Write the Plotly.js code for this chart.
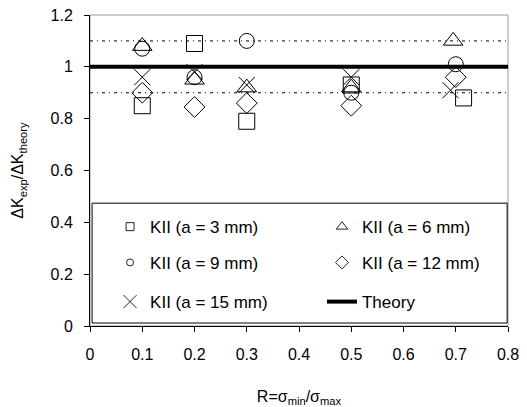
<!DOCTYPE html>
<html>
<head>
<meta charset="utf-8">
<script src="https://cdn.plot.ly/plotly-3.0.1.min.js"></script>
<style>html,body{margin:0;padding:0;background:#fff;}#chart{width:527px;height:407px;}</style>
</head>
<body>
<div id="chart"></div>
<script>
// Data
const x_a3  = [0.1, 0.2, 0.3, 0.5, 0.715];
const y_a3  = [0.85, 1.09, 0.79, 0.93, 0.88];
const x_a6  = [0.1, 0.2, 0.3, 0.5, 0.695];
const y_a6  = [1.08, 0.95, 0.92, 0.92, 1.10];
const x_a9  = [0.1, 0.2, 0.3, 0.5, 0.70];
const y_a9  = [1.07, 0.96, 1.10, 0.90, 1.01];
const x_a12 = [0.1, 0.2, 0.3, 0.5, 0.70];
const y_a12 = [0.90, 0.845, 0.86, 0.85, 0.96];
const x_a15 = [0.1, 0.2, 0.3, 0.5, 0.69];
const y_a15 = [0.96, 0.98, 0.93, 0.96, 0.91];
const x_theory = [0, 0.8];
const y_theory = [1, 1];
const bandLevels = [1.1, 0.9];
const names = ['KII (a = 3 mm)', 'KII (a = 6 mm)', 'KII (a = 9 mm)', 'KII (a = 12 mm)', 'KII (a = 15 mm)', 'Theory'];
const xTicks = [0, 0.1, 0.2, 0.3, 0.4, 0.5, 0.6, 0.7, 0.8];
const yTicks = [0, 0.2, 0.4, 0.6, 0.8, 1, 1.2];

const FONT = 'Liberation Sans, Arial, sans-serif';
const series = [
  {x: x_a3,  y: y_a3,  sym: 'square-open',      size: 16, lsize: 8},
  {x: x_a6,  y: y_a6,  sym: 'triangle-up-open', size: 17, lsize: 10},
  {x: x_a9,  y: y_a9,  sym: 'circle-open',      size: 15, lsize: 7},
  {x: x_a12, y: y_a12, sym: 'diamond-open',     size: 16, lsize: 10},
  {x: x_a15, y: y_a15, sym: 'x-thin-open',      size: 16, lsize: 13}
];
const legendIds = ['legend', 'legend2', 'legend3', 'legend4', 'legend5', 'legend6'];

const traces = [];
// reference dotted lines
bandLevels.forEach(v => {
  traces.push({x: x_theory, y: [v, v], mode: 'lines', showlegend: false, hoverinfo: 'skip',
    line: {color: '#000', width: 1, dash: '3px,4px,1px,4px'}});
});
traces.push({x: x_theory, y: y_theory, mode: 'lines', showlegend: false,
  line: {color: '#000', width: 4}});
series.forEach((s) => {
  traces.push({x: s.x, y: s.y, mode: 'markers', showlegend: false,
    marker: {symbol: s.sym, size: s.size, color: '#000', line: {color: '#000', width: 1}}});
});
// legend entries (one legend per entry, laid out in a 2-column grid)
series.forEach((s, i) => {
  traces.push({x: [null], y: [null], mode: 'markers', name: names[i], legend: legendIds[i],
    marker: {symbol: s.sym, size: s.lsize, color: '#222', line: {color: '#222', width: 1}}});
});
traces.push({x: [null], y: [null], mode: 'lines', name: names[5], legend: legendIds[5],
  line: {color: '#000', width: 4}});

const colX = [0.048, 0.555];
const rowY = [0.318, 0.203, 0.077];
function leg(i) {
  return {orientation: 'v', xanchor: 'left', yanchor: 'middle',
    x: colX[i % 2], y: rowY[Math.floor(i / 2)],
    bgcolor: 'rgba(0,0,0,0)', borderwidth: 0,
    font: {family: FONT, size: 17, color: '#000'}};
}

const layout = {
  width: 527, height: 407,
  margin: {l: 90, r: 19, t: 15, b: 81},
  paper_bgcolor: '#fff', plot_bgcolor: '#fff',
  font: {family: FONT, size: 16, color: '#000'},
  xaxis: {range: [0, 0.8], tickvals: xTicks, ticktext: xTicks.map(String), ticks: 'outside', ticklen: 5,
    tickcolor: '#000', showline: true, linecolor: '#000', linewidth: 1, showgrid: false, zeroline: false,
    tickfont: {family: FONT, size: 16}, ticklabelstandoff: 9,
    title: {text: 'R=σ<sub>min</sub>/σ<sub>max</sub>', font: {family: FONT, size: 16}, standoff: 28}},
  yaxis: {range: [0, 1.2], tickvals: yTicks, ticktext: yTicks.map(String), ticks: 'outside', ticklen: 5,
    tickcolor: '#000', showline: true, linecolor: '#000', linewidth: 1, showgrid: false, zeroline: false,
    tickfont: {family: FONT, size: 16}, ticklabelstandoff: 8,
    title: {text: 'ΔK<sub>exp</sub>/ΔK<sub>theory</sub>', font: {family: FONT, size: 16}, standoff: 22}},
  shapes: [
    {type: 'rect', xref: 'paper', yref: 'paper', x0: 0, x1: 1, y0: 0, y1: 1,
      line: {color: '#999', width: 1}, layer: 'below'},
    {type: 'rect', xref: 'paper', yref: 'paper', x0: 0.005, x1: 0.998, y0: 0.0096, y1: 0.395,
      line: {color: '#000', width: 1}, fillcolor: '#fff', layer: 'above'}
  ]
};
legendIds.forEach((id, i) => { layout[id] = leg(i); });

Plotly.newPlot('chart', traces, layout, {displayModeBar: false, staticPlot: true});
</script>
</body>
</html>
